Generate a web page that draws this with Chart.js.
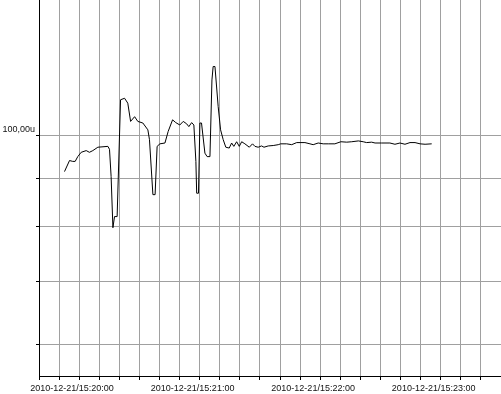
<!DOCTYPE html>
<html>
<head>
<meta charset="utf-8">
<script src="https://cdn.jsdelivr.net/npm/chart.js@4/dist/chart.umd.min.js"></script>
<style>
html,body{margin:0;padding:0;background:#fff;}
#wrap{width:501px;height:394px;}
</style>
</head>
<body>
<div id="wrap"><canvas id="c" width="501" height="394"></canvas></div>
<script>
// seconds after 2010-12-21 15:20:00
const times = [2.7,3.5,5.2,6.8,8.0,9.3,11.0,13.5,15.1,16.8,19.3,24.3,25.1,25.9,26.8,27.6,28.9,30.6,32.6,34.2,35.6,37.6,39.2,41.7,44.2,45.0,46.7,47.8,48.8,50.2,52.7,54.3,56.5,58.1,60.1,61.8,63.5,64.6,66.0,67.1,68.1,68.5,69.4,70.1,70.9,72.6,73.7,75.1,76.1,76.7,77.6,79.2,80.4,81.7,83.0,84.7,85.9,87.0,88.4,89.7,90.9,92.5,94.7,96.3,97.5,99.1,100.8,102.0,104.1,106.6,109.1,110.3,113.3,115.8,118.3,122.4,124.9,126.5,129.0,131.5,134.0,137.3,140.3,143.2,145.7,149.0,151.4,153.1,155.6,157.3,160.6,164.7,167.2,169.7,172.2,174.7,177.2,179.7,182.2,185.5];
const values = [91.5,92.3,94.0,93.8,93.8,94.9,95.9,96.3,95.9,96.3,97.1,97.3,96.6,90.4,79.8,82.0,82.0,109.0,109.4,108.1,103.4,104.6,103.4,103.0,101.3,98.9,86.5,86.5,97.3,97.9,98.1,100.9,103.8,103.1,102.5,103.4,102.8,102.1,103.1,102.5,93.8,86.8,86.8,103.0,103.0,95.7,94.9,94.9,114.4,118.2,118.2,107.2,101.3,98.9,97.1,96.9,98.1,97.3,98.4,97.3,98.4,97.9,97.1,97.9,97.3,97.1,97.4,97.1,97.4,97.5,97.7,97.9,97.9,97.7,98.2,98.2,97.9,97.7,98.1,97.9,97.9,97.9,98.4,98.3,98.4,98.6,98.4,98.2,98.3,98.1,98.1,98.1,97.8,98.1,97.8,98.2,98.2,97.9,97.8,97.9];
const xTickSeconds = [0,60,120,180];
const xTickLabels = ['2010-12-21/15:20:00','2010-12-21/15:21:00','2010-12-21/15:22:00','2010-12-21/15:23:00'];
const yTickValues = [60,70,80,90,100];
const yLabelValue = 100;
const yLabelText = '100,00u';

const points = times.map((t,i)=>({x:t,y:values[i]}));
const font = {family:'"Liberation Sans", Arial, sans-serif', size:9};

new Chart(document.getElementById('c'), {
  type:'line',
  data:{datasets:[{data:points,borderColor:'#000',borderWidth:1,pointRadius:0,tension:0,fill:false}]},
  options:{
    responsive:false,animation:false,
    layout:{padding:0},
    plugins:{legend:{display:false},tooltip:{enabled:false}},
    scales:{
      x:{
        type:'linear',min:-10,max:220,
        grid:{color:'#a0a0a0',tickColor:'#000',tickLength:4,lineWidth:1},
        border:{color:'#000',width:1},
        ticks:{stepSize:10,autoSkip:false,maxRotation:0,minRotation:0,padding:3,labelOffset:13,color:'#111',font:font,
          callback:(v)=>{const i=xTickSeconds.indexOf(v);return i>=0?xTickLabels[i]:'';}},
        afterFit:(s)=>{s.height=18;s.paddingLeft=0;s.paddingRight=0;}
      },
      y:{
        type:'logarithmic',min:55.6,max:139,
        grid:{color:'#a0a0a0',tickColor:'#000',tickLength:3,lineWidth:1},
        border:{color:'#000',width:1},
        afterBuildTicks:(s)=>{s.ticks=yTickValues.map(v=>({value:v}));},
        ticks:{padding:1,color:'#111',font:font,autoSkip:false,
          callback:(v)=>v===yLabelValue?[yLabelText,'']:''},
        afterFit:(s)=>{s.width=39;s.paddingTop=0;s.paddingBottom=0;}
      }
    }
  }
});
</script>
</body>
</html>
